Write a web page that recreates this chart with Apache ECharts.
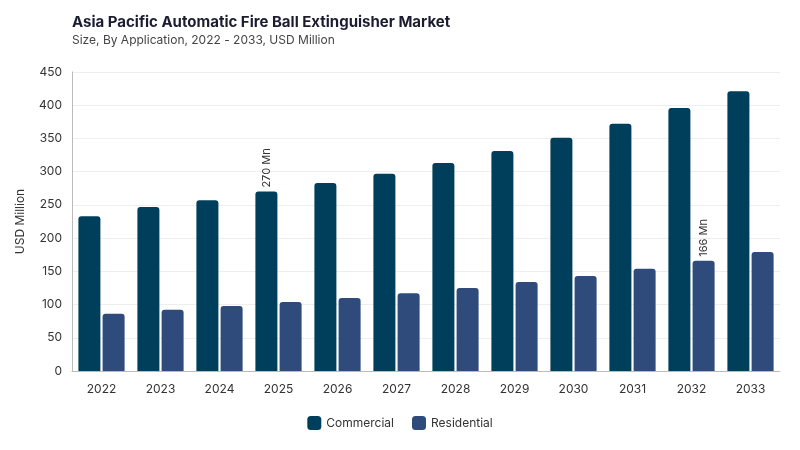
<!DOCTYPE html>
<html><head><meta charset="utf-8">
<script src="https://cdn.jsdelivr.net/npm/echarts@6/dist/echarts.min.js"></script>
<style>html,body{margin:0;padding:0;background:#fff}#c{width:800px;height:450px}</style>
</head><body><div id="c"></div>
<script>
const categories = ['2022','2023','2024','2025','2026','2027','2028','2029','2030','2031','2032','2033'];
const commercial = [233,247,257,270,283,297,313,331,351,372,396,421];
const residential = [86,92,98,104,110,117,125,134,143,154,166,179];
const yTicks = {min:0,max:450,interval:50};
const labelCommercialIdx = 3;
const labelResidentialIdx = 10;

const font = 'Inter, "Noto Sans", sans-serif';
function mk(arr, idx){
  return arr.map((v,i)=> i===idx ? {value:v,label:{show:true,position:'top',rotate:90,align:'left',verticalAlign:'middle',distance:4,formatter:'{c} Mn',color:'#333',fontSize:11,fontFamily:font}} : v);
}
const chart = echarts.init(document.getElementById('c'));
chart.setOption({
  title:{text:'Asia Pacific Automatic Fire Ball Extinguisher Market',subtext:'Size, By Application, 2022 - 2033, USD Million',left:67,top:10,
    textStyle:{fontFamily:font,fontSize:15,fontWeight:'bold',color:'#1c1c30'},
    subtextStyle:{fontFamily:font,fontSize:12,color:'#444'},itemGap:4},
  legend:{bottom:15,left:'center',itemWidth:14,itemHeight:14,itemGap:18,icon:'roundRect',
    textStyle:{fontFamily:font,fontSize:12,color:'#333'},data:['Commercial','Residential']},
  grid:{left:72,right:20,top:72,bottom:79},
  xAxis:{type:'category',data:categories,axisTick:{show:false},axisLine:{lineStyle:{color:'#bbb'}},
    axisLabel:{fontFamily:font,fontSize:12,color:'#333',margin:12}},
  yAxis:{type:'value',min:yTicks.min,max:yTicks.max,interval:yTicks.interval,name:'USD Million',nameLocation:'middle',nameGap:46,
    nameTextStyle:{fontFamily:font,fontSize:12,color:'#333'},
    axisLine:{show:true,lineStyle:{color:'#bbb'}},axisTick:{show:false},
    axisLabel:{fontFamily:font,fontSize:12,color:'#333',margin:10},
    splitLine:{lineStyle:{color:'#eee'}}},
  series:[
    {name:'Commercial',type:'bar',data:mk(commercial,labelCommercialIdx),barWidth:22,barGap:'10%',
     itemStyle:{color:'#003f5c',borderRadius:[3,3,0,0]}},
    {name:'Residential',type:'bar',data:mk(residential,labelResidentialIdx),barWidth:22,
     itemStyle:{color:'#2f4b7c',borderRadius:[3,3,0,0]}}
  ]
});
</script></body></html>
